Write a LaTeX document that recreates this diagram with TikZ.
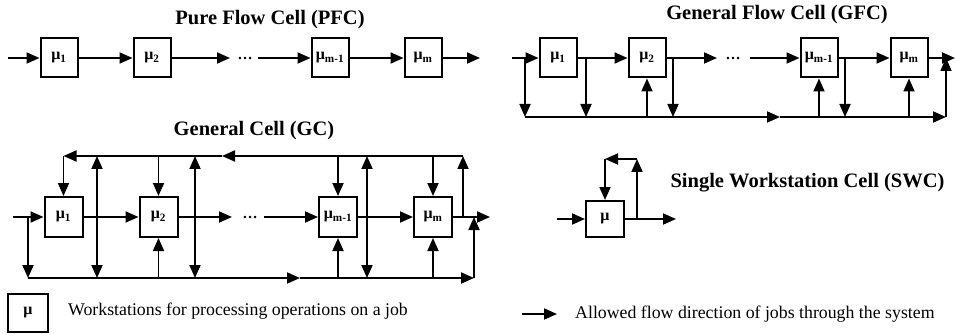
\documentclass[tikz,border=0pt]{standalone}
\usepackage{fontspec}
\setmainfont{Liberation Serif}
\usetikzlibrary{arrows.meta}
\newcommand{\mus}[1]{μ\textsubscript{#1}}
\begin{document}
\begin{tikzpicture}[x=1pt,y=-1pt,
  wbox/.style={draw,line width=2pt,minimum width=37pt,minimum height=39pt,inner sep=0pt,font=\bfseries\fontsize{16}{16}\selectfont},
  ln/.style={line width=1.8pt},
  tip/.tip={Triangle[length=13pt,width=11pt]},
  arr/.style={ln,-tip},
  darr/.style={ln,tip-tip},
  ttl/.style={font=\bfseries\fontsize{20.5}{24}\selectfont},
  lgd/.style={font=\fontsize{17.8}{21}\selectfont,anchor=west,inner sep=0pt},
  dts/.style={font=\bfseries\fontsize{15}{15}\selectfont,inner sep=0pt}]
\useasboundingbox (0,0) rectangle (956,334);
% ---------- PFC ----------
\node[ttl] (tp) at (270,20) {Pure Flow Cell (PFC)};
\coordinate (pin) at (8,58);
\node[wbox] (p1) at (59,58) {\mus{1}};
\node[wbox] (p2) at (152,58) {\mus{2}};
\coordinate (pa) at (230,58);
\node[dts] (pd) at (245,58) {\dots};
\coordinate (pb) at (258,58);
\node[wbox] (pm1) at (330,58) {\mus{m-1}};
\node[wbox] (pm) at (423,58) {\mus{m}};
\coordinate (pout) at (480,58);
\draw[arr] (pin) -- (p1);
\draw[arr] (p1) -- (p2);
\draw[arr] (p2) -- (pa);
\draw[arr] (pb) -- (pm1);
\draw[arr] (pm1) -- (pm);
\draw[arr] (pm) -- (pout);
% ---------- GFC ----------
\node[ttl] (tg) at (777,15) {General Flow Cell (GFC)};
\coordinate (gin) at (512,58);
\node[wbox] (g1) at (558,58) {\mus{1}};
\node[wbox] (g2) at (647,58) {\mus{2}};
\coordinate (ga) at (717,58);
\node[dts] (gd) at (733,58) {\dots};
\coordinate (gb) at (750,58);
\node[wbox] (gm1) at (819,58) {\mus{m-1}};
\node[wbox] (gm) at (909,58) {\mus{m}};
\coordinate (gout) at (955,58);
\coordinate (gs1) at (525,58);  \coordinate (gs1b) at (525,117);
\coordinate (gs2) at (586,58);  \coordinate (gs2b) at (586,117);
\coordinate (gs3) at (673,58);  \coordinate (gs3b) at (673,117);
\coordinate (gs4) at (845,58);  \coordinate (gs4b) at (845,117);
\coordinate (gmid) at (780,117);
\coordinate (gbr) at (946,117);
\coordinate (gr) at (946,58);
\draw[arr] (gin) -- (g1);
\draw[arr] (g1) -- (g2);
\draw[arr] (g2) -- (ga);
\draw[arr] (gb) -- (gm1);
\draw[arr] (gm1) -- (gm);
\draw[arr] (gm) -- (gout);
\draw[arr] (gs1) -- (gs1b);
\draw[arr] (gs2) -- (gs2b);
\draw[arr] (gs3) -- (gs3b);
\draw[arr] (gs4) -- (gs4b);
\draw[arr] (g2 |- gs1b) -- (g2.south);
\draw[arr] (gm1 |- gs1b) -- (gm1.south);
\draw[arr] (gm |- gs1b) -- (gm.south);
\draw[arr] (gs1b) -- (gmid);
\draw[arr] (gmid) -- (gbr);
\draw[arr] (gbr) -- (gr);
% ---------- GC ----------
\node[ttl] (tc) at (254,131) {General Cell (GC)};
\coordinate (cin) at (13,217);
\node[wbox,minimum height=40pt,minimum width=38pt] (c1) at (63.5,217) {\mus{1}};
\node[wbox,minimum height=40pt,minimum width=38pt] (c2) at (158.5,217) {\mus{2}};
\coordinate (ca) at (232,217);
\node[dts] (cd) at (250,217) {\dots};
\coordinate (cb) at (264,217);
\node[wbox,minimum height=40pt,minimum width=38pt] (cm1) at (338,217) {\mus{m-1}};
\node[wbox,minimum height=40pt,minimum width=38pt] (cm) at (433,217) {\mus{m}};
\coordinate (cout) at (490,217);
\coordinate (cl) at (28,217);  \coordinate (clb) at (28,278);
\coordinate (cr) at (463,217); \coordinate (crt) at (463,156);
\coordinate (ctmid) at (222,156);
\coordinate (ctl) at (63.5,156);
\coordinate (cbmid) at (300,278);
\coordinate (cbr) at (474,278);
\coordinate (cbu) at (474,217);
\draw[arr] (cin) -- (c1);
\draw[arr] (c1) -- (c2);
\draw[arr] (c2) -- (ca);
\draw[arr] (cb) -- (cm1);
\draw[arr] (cm1) -- (cm);
\draw[arr] (cm) -- (cout);
\draw[arr] (cl) -- (clb);
\draw[arr] (cr) -- (crt);
\draw[arr] (crt) -- (ctmid);
\draw[arr] (ctmid) -- (ctl);
\draw[arr] (ctl) -- (c1.north);
\foreach \x in {97,195,367} \draw[darr] (\x,156) -- (\x,278);
\draw[arr] (c2 |- crt) -- (c2.north);
\draw[arr] (cm1 |- crt) -- (cm1.north);
\draw[arr] (cm |- crt) -- (cm.north);
\draw[arr] (c2 |- clb) -- (c2.south);
\draw[arr] (cm1 |- clb) -- (cm1.south);
\draw[arr] (cm |- clb) -- (cm.south);
\draw[arr] (clb) -- (cbmid);
\draw[arr] (cbmid) -- (cbr);
\draw[arr] (cbr) -- (cbu);
% ---------- SWC ----------
\node[ttl,anchor=west] (ts) at (667,183) {Single Workstation Cell (SWC)};
\node[wbox,minimum height=36pt,minimum width=38pt] (s) at (605,219) {μ};
\coordinate (sin) at (557,219);
\coordinate (sout) at (676,219);
\coordinate (sb) at (637,219);
\coordinate (st) at (637,159);
\coordinate (stl) at (605,159);
\draw[arr] (sin) -- (s);
\draw[arr] (s) -- (sout);
\draw[arr] (sb) -- (st);
\draw[arr] (st) -- (stl);
\draw[arr] (stl) -- (s.north);
% ---------- Legend ----------
\node[draw,line width=2pt,minimum width=40pt,minimum height=38pt,inner sep=0pt,font=\bfseries\fontsize{16}{16}\selectfont] (lbox) at (28,313) {μ};
\node[lgd] (ltxt) at (68,311) {Workstations for processing operations on a job};
\coordinate (la) at (522,314);
\coordinate (lb) at (557,314);
\draw[arr] (la) -- (lb);
\node[lgd] (rtxt) at (575,314) {Allowed flow direction of jobs through the system};
\end{tikzpicture}
\end{document}
